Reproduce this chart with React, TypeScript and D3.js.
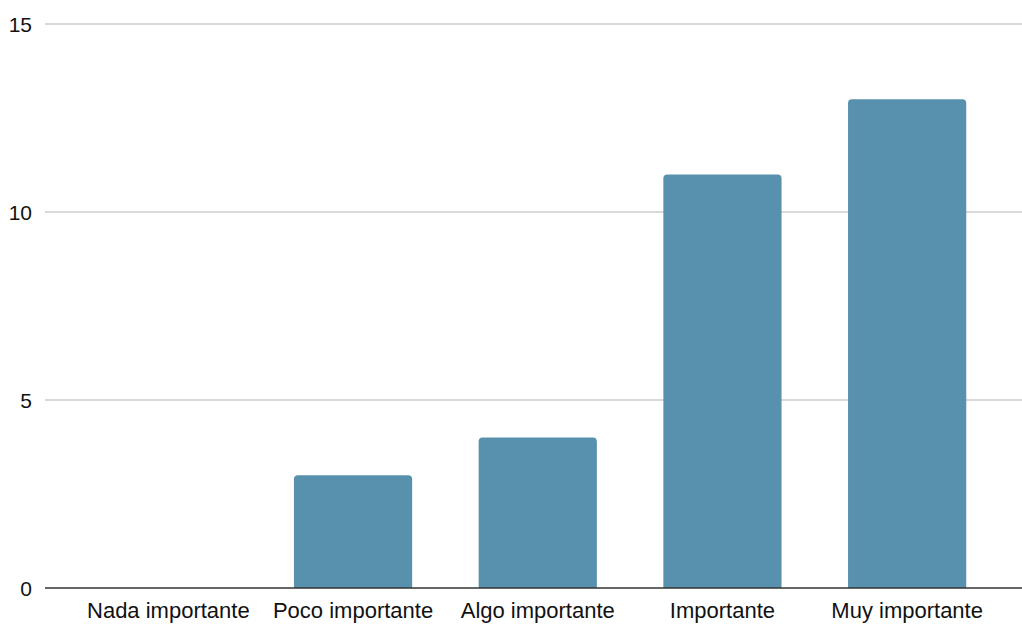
import React from "react";
import * as d3 from "d3";

const categories = ["Nada importante", "Poco importante", "Algo importante", "Importante", "Muy importante"];
const values = [0, 3, 4, 11, 13];
const yTicks = [0, 5, 10, 15];

const W = 1022;
const H = 626;

function topRoundedRect(x: number, y: number, w: number, h: number, r: number) {
  if (h <= 0) return "";
  const rr = Math.min(r, h, w / 2);
  return `M${x},${y + h}V${y + rr}Q${x},${y} ${x + rr},${y}H${x + w - rr}Q${x + w},${y} ${x + w},${y + rr}V${y + h}Z`;
}

export default function App() {
  const x = d3.scaleBand<string>().domain(categories).range([76, 999.5]).paddingInner(0.36).paddingOuter(0.18);
  const y = d3.scaleLinear().domain([0, 15]).range([588, 24]);
  const font = "Arial, 'Liberation Sans', sans-serif";
  return (
    <svg width={W} height={H} style={{ position: "absolute", left: 0, top: 0, background: "#fff" }}>
      {yTicks.map((t) => (
        <g key={t}>
          {t !== 0 && (
            <line x1={45} x2={1022} y1={y(t)} y2={y(t)} stroke="#cccccc" strokeWidth={1.3} />
          )}
          <text x={32} y={y(t)} dy="0.36em" textAnchor="end" fontSize={21} fontFamily={font} fill="#111">
            {t}
          </text>
        </g>
      ))}
      {categories.map((c, i) => (
        <path
          key={c}
          d={topRoundedRect(x(c)!, y(values[i]), x.bandwidth(), y(0) - y(values[i]), 4)}
          fill="#5891ae"
        />
      ))}
      <line x1={45} x2={1022} y1={y(0)} y2={y(0)} stroke="#333" strokeWidth={1.5} />
      {categories.map((c) => (
        <text
          key={c}
          x={x(c)! + x.bandwidth() / 2}
          y={618}
          textAnchor="middle"
          fontSize={22}
          fontFamily={font}
          fill="#111"
        >
          {c}
        </text>
      ))}
    </svg>
  );
}
